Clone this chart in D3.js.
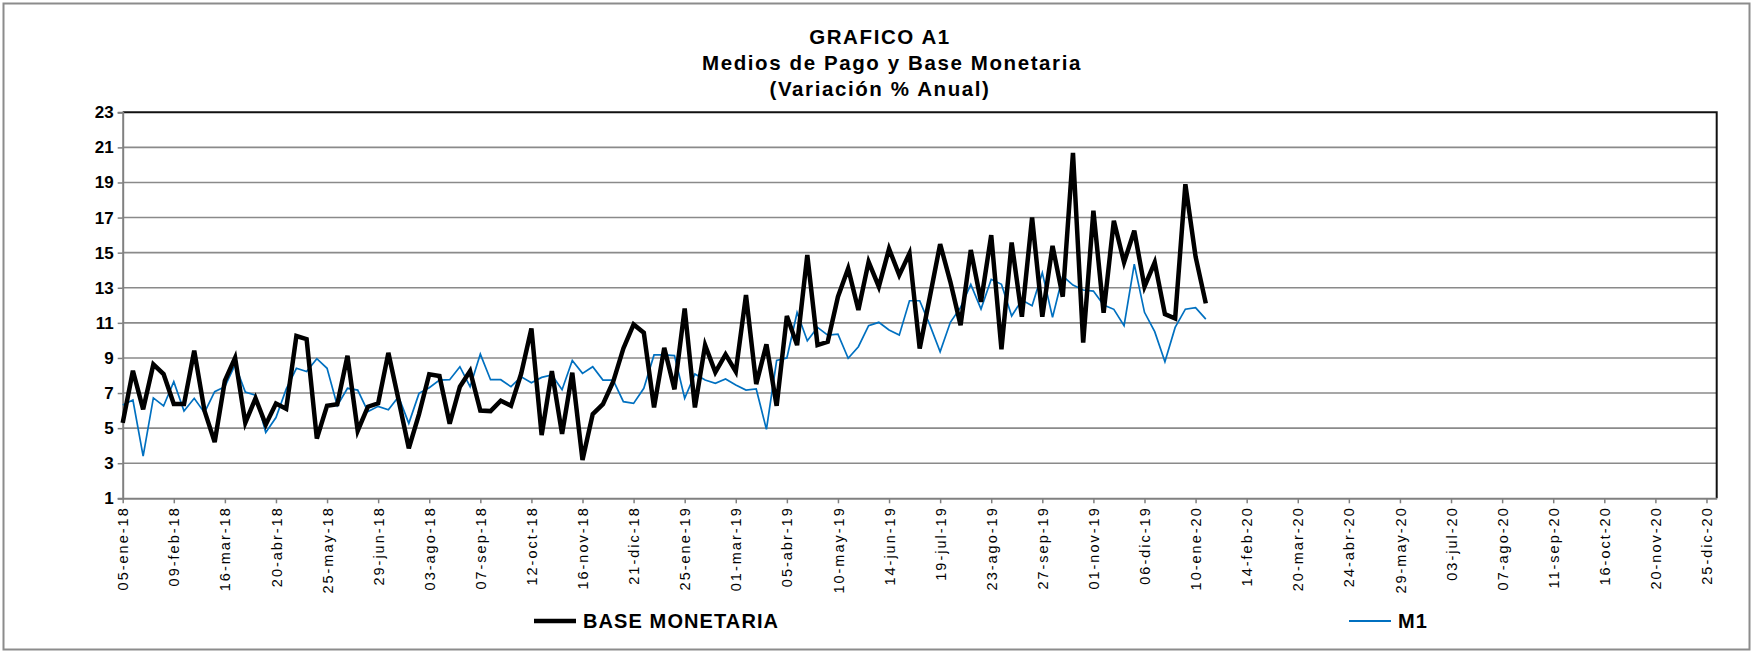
<!DOCTYPE html>
<html>
<head>
  <meta charset="utf-8">
  <title>GRAFICO A1</title>
  <script src="https://d3js.org/d3.v7.min.js"></script>
  <style>
    body { margin: 0; background: #fff; }
    text { font-family: "Liberation Sans", Arial, sans-serif; }
  </style>
</head>
<body>
  <svg width="1754" height="653" id="mainsvg"></svg>
  <script>
    // semanas desde 05-ene-18 (indice 0) hasta 17-ene-20 (indice 106)
    const weeksOnAxis = 156;

    const tickLabels = ['05-ene-18','09-feb-18','16-mar-18','20-abr-18','25-may-18','29-jun-18',
      '03-ago-18','07-sep-18','12-oct-18','16-nov-18','21-dic-18','25-ene-19','01-mar-19',
      '05-abr-19','10-may-19','14-jun-19','19-jul-19','23-ago-19','27-sep-19','01-nov-19',
      '06-dic-19','10-ene-20','14-feb-20','20-mar-20','24-abr-20','29-may-20','03-jul-20',
      '07-ago-20','11-sep-20','16-oct-20','20-nov-20','25-dic-20'];

    const baseMonetaria = [5.3,8.27,6.07,8.63,8.08,6.37,6.37,9.41,6.0,4.2,
      7.7,9.0,5.3,6.7,5.2,6.4,6.1,10.25,10.07,4.4,
      6.28,6.36,9.12,4.85,6.22,6.41,9.29,6.6,3.85,5.8,
      8.07,7.97,5.25,7.36,8.26,6.0,5.97,6.56,6.27,8.11,
      10.68,4.6,8.25,4.67,8.16,3.18,5.8,6.37,7.64,9.54,
      10.91,10.44,6.18,9.58,7.21,11.82,6.18,9.73,8.18,9.2,
      8.22,12.58,7.51,9.77,6.27,11.39,9.73,14.86,9.73,9.92,
      12.49,14.1,11.73,14.48,13.06,15.22,13.72,14.96,9.54,12.5,
      15.49,13.34,10.87,15.15,12.2,16.0,9.49,15.58,11.35,17.01,
      11.35,15.39,12.49,20.69,9.87,17.39,11.58,16.82,14.45,16.25,
      13.06,14.45,11.5,11.25,18.9,14.77,12.11];

    const m1 = [6.32,6.6,3.4,6.72,6.26,7.65,5.97,6.7,5.88,7.08,
      7.36,8.62,7.06,6.88,4.75,5.6,7.22,8.41,8.22,8.96,
      8.41,6.28,7.27,7.17,5.94,6.24,6.05,6.79,5.27,6.98,
      7.3,7.74,7.76,8.5,7.36,9.22,7.76,7.76,7.36,7.93,
      7.59,7.89,8.03,7.19,8.85,8.12,8.5,7.74,7.74,6.51,
      6.41,7.27,9.17,9.17,9.13,6.7,8.08,7.74,7.55,7.8,
      7.46,7.17,7.23,4.93,8.86,9.0,11.59,9.98,10.74,10.3,
      10.36,8.98,9.64,10.84,11.03,10.59,10.3,12.26,12.26,10.87,
      9.35,11.03,11.88,13.19,11.79,13.48,13.2,11.39,12.3,11.97,
      13.86,11.31,13.66,13.15,12.87,12.81,12.01,11.77,10.84,14.35,
      11.6,10.5,8.78,10.74,11.78,11.87,11.21];

    const yTicks = [1,3,5,7,9,11,13,15,17,19,21,23];

    let svg = d3.select('#mainsvg');
    const plotLeft = 122.7, plotRight = 1716.7, plotTop = 112.3, plotBottom = 498.3;

    // marco exterior
    svg.append('rect')
      .attr('x', 3.5).attr('y', 3.5)
      .attr('width', 1746).attr('height', 646)
      .attr('fill', 'none').attr('stroke', '#8c8c8c').attr('stroke-width', 2);

    // titulo
    const titleLines = ['GRAFICO A1', 'Medios de Pago y Base Monetaria', '(Variación % Anual)'];
    const titleX = [880, 892, 880];
    svg.selectAll('text.title').data(titleLines)
      .enter().append('text')
      .attr('class', 'title')
      .attr('x', (d, i) => titleX[i])
      .attr('y', (d, i) => 44 + i * 26)
      .attr('text-anchor', 'middle')
      .attr('font-size', 20.5)
      .attr('font-weight', 'bold')
      .attr('letter-spacing', 1.6)
      .text(d => d);

    let x = d3.scaleLinear().domain([0, weeksOnAxis]).range([plotLeft, plotRight]);
    let y = d3.scaleLinear().domain([1, 23]).range([plotBottom, plotTop]);

    // lineas de grilla
    svg.append('g')
      .selectAll('line').data(yTicks.slice(1, -1))
      .enter().append('line')
      .attr('x1', plotLeft).attr('x2', plotRight)
      .attr('y1', d => y(d)).attr('y2', d => y(d))
      .attr('stroke', '#8a8a8a').attr('stroke-width', 1.6);

    // borde superior y derecho
    svg.append('path')
      .attr('d', `M${plotLeft},${plotTop}H${plotRight}V${plotBottom}`)
      .attr('fill', 'none').attr('stroke', '#111').attr('stroke-width', 2);

    // eje y
    let yAxis = d3.axisLeft(y).tickValues(yTicks).tickSize(5).tickPadding(4);
    let gy = svg.append('g').attr('transform', `translate(${plotLeft},0)`).call(yAxis);
    gy.select('.domain').attr('stroke', '#808080').attr('stroke-width', 2);
    gy.selectAll('.tick line').attr('stroke', '#808080').attr('stroke-width', 1.5);
    gy.selectAll('.tick text')
      .attr('font-size', 17).attr('font-weight', 'bold').attr('fill', '#000')
      .attr('font-family', '"Liberation Sans", Arial, sans-serif');

    // eje x
    let xAxis = d3.axisBottom(x)
      .tickValues(tickLabels.map((d, i) => i * 5))
      .tickFormat((d, i) => tickLabels[i])
      .tickSize(5).tickSizeOuter(0);
    let gx = svg.append('g').attr('transform', `translate(0,${plotBottom})`).call(xAxis);
    gx.select('.domain').attr('stroke', '#808080').attr('stroke-width', 2);
    gx.selectAll('.tick line').attr('stroke', '#808080').attr('stroke-width', 1.5);
    gx.selectAll('.tick text')
      .attr('font-size', 14.5).attr('fill', '#000')
      .attr('letter-spacing', 2)
      .attr('font-family', '"Liberation Sans", Arial, sans-serif')
      .attr('text-anchor', 'end')
      .attr('transform', 'rotate(-90)')
      .attr('x', -8).attr('y', 0).attr('dy', '0.35em');

    // series
    const line = d3.line().x((d, i) => x(i)).y(d => y(d));

    svg.append('path')
      .datum(m1)
      .attr('d', line)
      .attr('fill', 'none')
      .attr('stroke', '#0070c0')
      .attr('stroke-width', 1.7)
      .attr('stroke-linejoin', 'miter');

    svg.append('path')
      .datum(baseMonetaria)
      .attr('d', line)
      .attr('fill', 'none')
      .attr('stroke', '#000')
      .attr('stroke-width', 4.5)
      .attr('stroke-linejoin', 'miter');

    // leyenda
    const legend = [
      {name: 'BASE MONETARIA', color: '#000', w: 4.5, x: 534},
      {name: 'M1', color: '#0070c0', w: 2.2, x: 1349}
    ];
    let lg = svg.selectAll('g.legend').data(legend)
      .enter().append('g')
      .attr('class', 'legend')
      .attr('transform', d => `translate(${d.x},621)`);
    lg.append('line')
      .attr('x1', 0).attr('x2', 42)
      .attr('stroke', d => d.color).attr('stroke-width', d => d.w);
    lg.append('text')
      .attr('x', 49).attr('dy', '0.36em')
      .attr('font-size', 20).attr('font-weight', 'bold').attr('letter-spacing', 1.1)
      .text(d => d.name);
  </script>
</body>
</html>
